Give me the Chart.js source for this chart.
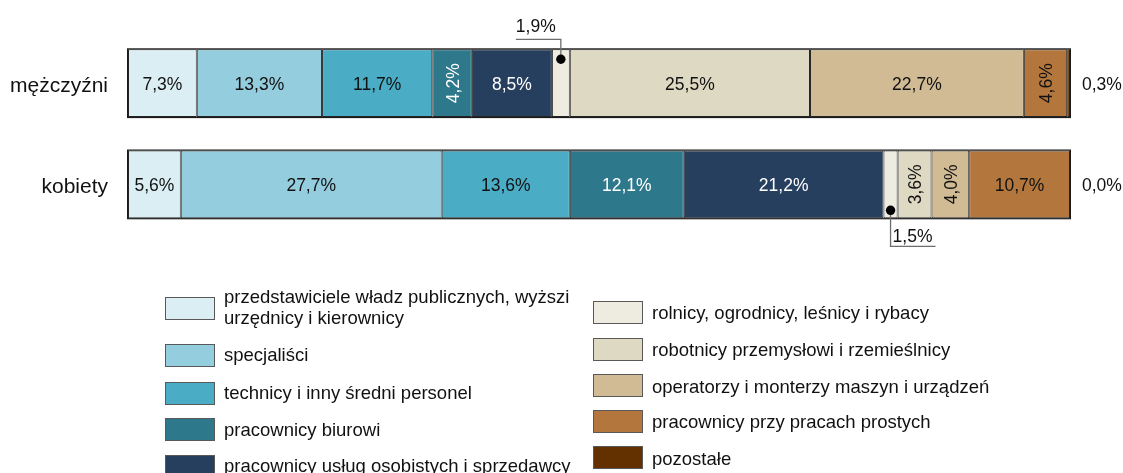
<!DOCTYPE html>
<html><head><meta charset="utf-8">
<script src="https://cdn.jsdelivr.net/npm/chart.js@4"></script>
<style>
html,body{margin:0;padding:0;background:#fff;}
#wrap{position:relative;width:1123px;height:473px;overflow:hidden;font-family:"Liberation Sans",Arial,sans-serif;}
canvas{position:absolute;left:0;top:0;}
.box{position:absolute;width:48px;height:21px;border:1.5px solid #595959;}
.txt{position:absolute;font-size:18.5px;line-height:21px;color:#111;white-space:pre;transform:translateY(-50%);}
</style></head>
<body><div id="wrap"><canvas id="c" width="1123" height="473"></canvas><div id="legend"></div></div>
<script>
// ---- data ----
const categories = ['mężczyźni', 'kobiety'];
const seriesNames = [
  'przedstawiciele władz publicznych, wyższi\nurzędnicy i kierownicy',
  'specjaliści',
  'technicy i inny średni personel',
  'pracownicy biurowi',
  'pracownicy usług osobistych i sprzedawcy',
  'rolnicy, ogrodnicy, leśnicy i rybacy',
  'robotnicy przemysłowi i rzemieślnicy',
  'operatorzy i monterzy maszyn i urządzeń',
  'pracownicy przy pracach prostych',
  'pozostałe'
];
const menValues   = [7.3, 13.3, 11.7, 4.2, 8.5, 1.9, 25.5, 22.7, 4.6, 0.3];
const womenValues = [5.6, 27.7, 13.6, 12.1, 21.2, 1.5, 3.6, 4.0, 10.7, 0.0];
const seriesColors = ['#DBEEF4', '#94CDDD', '#4BACC6', '#2E788C', '#263F5F',
                      '#EEECE1', '#DDD9C3', '#D1BB94', '#B3773D', '#633100'];
const whiteLabelSeries = [3, 4];

// ---- helpers ----
const FONT = '"Liberation Sans", Arial, sans-serif';
const fmt = v => v.toFixed(1).replace('.', ',') + '%';

const datasets = seriesNames.map((name, i) => ({
  label: name,
  data: [menValues[i], womenValues[i]],
  backgroundColor: seriesColors[i],
  borderColor: '#262626',
  borderWidth: 1,
  borderSkipped: false,
  barPercentage: 0.67,
  categoryPercentage: 1.0
}));

const labelPlugin = {
  id: 'segLabels',
  afterDatasetsDraw(chart) {
    const ctx = chart.ctx;
    const area = chart.chartArea;
    ctx.save();
    // outer frame of each stacked bar
    const firstMeta = chart.getDatasetMeta(0);
    const lastMeta = chart.getDatasetMeta(chart.data.datasets.length - 1);
    firstMeta.data.forEach((bar, ci) => {
      const end = lastMeta.data[ci];
      const l = Math.min(bar.base, bar.x), r = Math.max(end.x, end.base);
      const t = bar.y - bar.height / 2, b = bar.y + bar.height / 2;
      ctx.strokeStyle = '#1a1a1a';
      ctx.lineWidth = 1.2;
      ctx.strokeRect(l - 0.4, t - 0.4, r - l + 0.8, b - t + 0.8);
    });
    ctx.font = '17.5px ' + FONT;
    chart.data.datasets.forEach((ds, di) => {
      const meta = chart.getDatasetMeta(di);
      meta.data.forEach((bar, ci) => {
        const v = ds.data[ci];
        const left = Math.min(bar.x, bar.base), right = Math.max(bar.x, bar.base);
        const cx = (left + right) / 2;
        const top = bar.y - bar.height / 2, bottom = bar.y + bar.height / 2;
        const txt = fmt(v);
        ctx.fillStyle = whiteLabelSeries.includes(di) ? '#ffffff' : '#111111';
        if (di === seriesNames.length - 1) {
          ctx.fillStyle = '#111111';
          ctx.textAlign = 'left';
          ctx.textBaseline = 'middle';
          ctx.fillText(txt, area.right + 12, bar.y + 2);
        } else if (v < 2) {
          ctx.strokeStyle = '#6e6e6e';
          ctx.lineWidth = 1.3;
          ctx.fillStyle = '#000';
          ctx.beginPath();
          if (ci === 0) {
            const dy = top + 10, ly = top - 10;
            ctx.moveTo(cx, dy); ctx.lineTo(cx, ly); ctx.lineTo(cx - 45, ly);
            ctx.stroke();
            ctx.beginPath(); ctx.arc(cx, dy, 4.7, 0, Math.PI * 2); ctx.fill();
            ctx.fillStyle = '#111';
            ctx.textAlign = 'left'; ctx.textBaseline = 'alphabetic';
            ctx.fillText(txt, cx - 45, ly - 7);
          } else {
            const dy = bottom - 8, ly = bottom + 28;
            ctx.moveTo(cx, dy); ctx.lineTo(cx, ly); ctx.lineTo(cx + 45, ly);
            ctx.stroke();
            ctx.beginPath(); ctx.arc(cx, dy, 4.7, 0, Math.PI * 2); ctx.fill();
            ctx.fillStyle = '#111';
            ctx.textAlign = 'left'; ctx.textBaseline = 'alphabetic';
            ctx.fillText(txt, cx + 2, ly - 4);
          }
        } else if (v < 5) {
          ctx.save();
          ctx.translate(cx + 2, bar.y);
          ctx.rotate(-Math.PI / 2);
          ctx.textAlign = 'center'; ctx.textBaseline = 'middle';
          ctx.fillText(txt, 0, 0);
          ctx.restore();
        } else {
          ctx.textAlign = 'center'; ctx.textBaseline = 'middle';
          ctx.fillText(txt, cx, bar.y + 2);
        }
      });
    });
    ctx.restore();
  }
};

new Chart(document.getElementById('c'), {
  type: 'bar',
  data: { labels: categories, datasets },
  options: {
    indexAxis: 'y',
    responsive: false,
    animation: false,
    layout: { padding: { top: 29, bottom: 238, left: 0, right: 53 } },
    plugins: { legend: { display: false }, tooltip: { enabled: false } },
    scales: {
      x: { stacked: true, min: 0, max: 100, display: false },
      y: {
        stacked: true,
        grid: { display: false, drawTicks: false },
        border: { display: false },
        ticks: { font: { size: 21, family: FONT }, color: '#111', padding: 20, labelOffset: 3 },
        afterFit(s) { s.width = 128; }
      }
    }
  },
  plugins: [labelPlugin]
});

// ---- legend (HTML) ----
const legendLayout = [
  { x: 165, boxTop: 297, textY: 307 }, { x: 165, boxTop: 344, textY: 354 },
  { x: 165, boxTop: 382, textY: 392 }, { x: 165, boxTop: 418, textY: 429 },
  { x: 165, boxTop: 455, textY: 465 },
  { x: 593, boxTop: 301, textY: 312 }, { x: 593, boxTop: 338, textY: 349 },
  { x: 593, boxTop: 374, textY: 386 }, { x: 593, boxTop: 410, textY: 421 },
  { x: 593, boxTop: 446, textY: 458 }
];
const lg = document.getElementById('legend');
seriesNames.forEach((name, i) => {
  const L = legendLayout[i];
  const b = document.createElement('div');
  b.className = 'box';
  b.style.left = L.x + 'px'; b.style.top = L.boxTop + 'px';
  b.style.background = seriesColors[i];
  lg.appendChild(b);
  const t = document.createElement('div');
  t.className = 'txt';
  t.style.left = (L.x + 59) + 'px'; t.style.top = L.textY + 'px';
  t.textContent = name;
  lg.appendChild(t);
});
</script>
</body></html>
